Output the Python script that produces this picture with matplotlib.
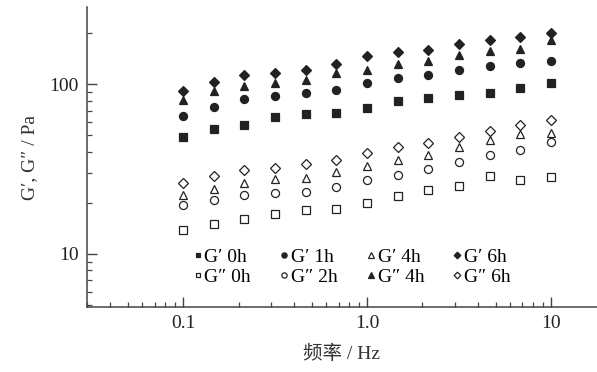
import numpy as np
import matplotlib
matplotlib.use("Agg")
import matplotlib.pyplot as plt
from matplotlib.ticker import LogLocator, FixedLocator, FixedFormatter, NullFormatter

plt.rcParams["font.family"] = ["Liberation Serif", "Noto Sans CJK SC"]

freq = [0.1, 0.147, 0.215, 0.316, 0.464, 0.681, 1.0, 1.47, 2.15, 3.16, 4.64, 6.81, 10.0]

g1_0h = [48.8, 54.2, 57.4, 63.7, 66.9, 67.8, 72.9, 79.4, 83.5, 86.2, 88.9, 95.1, 102]
g1_1h = [65.1, 73.5, 81.3, 85.0, 88.5, 92.2, 101, 109, 114, 121, 128, 133, 137]
g1_4h = [22.2, 24.3, 26.3, 27.5, 27.9, 30.5, 33.0, 35.7, 38.2, 42.5, 46.9, 50.8, 51.7]
g1_6h = [91.3, 103, 113, 117, 122, 132, 146, 154, 160, 172, 183, 190, 200]
g2_0h = [13.9, 15.0, 16.0, 17.2, 18.2, 18.3, 19.9, 22.0, 23.8, 25.1, 28.9, 27.2, 28.5]
g2_2h = [19.4, 20.8, 22.2, 23.0, 23.2, 24.7, 27.2, 29.2, 31.5, 34.6, 38.2, 40.9, 45.8]
g2_4h = [80.5, 91.3, 97.7, 102, 106, 116, 122, 131, 137, 148, 156, 162, 183]
g2_6h = [26.1, 28.9, 31.2, 32.2, 34.1, 35.7, 39.4, 42.5, 44.8, 49.0, 53.1, 57.4, 61.4]

ink = "#222222"

fig = plt.figure(figsize=(5.97, 3.72), dpi=100)
ax = fig.add_axes([0.1457, 0.1747, 0.8543, 0.8065])

# order: column-major for a 4-column legend
series = [
    (g1_0h, "s", True, "G\u2032 0h"),
    (g2_0h, "s", False, "G\u2033 0h"),
    (g1_1h, "o", True, "G\u2032 1h"),
    (g2_2h, "o", False, "G\u2033 2h"),
    (g1_4h, "^", False, "G\u2032 4h"),
    (g2_4h, "^", True, "G\u2033 4h"),
    (g1_6h, "D", True, "G\u2032 6h"),
    (g2_6h, "D", False, "G\u2033 6h"),
]
sizes = {"s": 5.2, "o": 5.8, "^": 6.0, "D": 5.2}
for vals, mk, filled, lab in series:
    ax.plot(freq, vals, linestyle="none", marker=mk, ms=sizes[mk],
            mfc=ink if filled else "white", mec=ink, mew=0.9, label=lab)

ax.set_xscale("log")
ax.set_yscale("log")
ax.set_xlim(0.03, 17.8)
ax.set_ylim(4.87, 285)

ax.xaxis.set_major_locator(FixedLocator([0.1, 1.0, 10]))
ax.xaxis.set_major_formatter(FixedFormatter(["0.1", "1.0", "10"]))
ax.yaxis.set_major_locator(FixedLocator([10, 100]))
ax.yaxis.set_major_formatter(FixedFormatter(["10", "100"]))
ax.xaxis.set_minor_locator(LogLocator(base=10, subs=np.arange(2, 10)))
ax.yaxis.set_minor_locator(LogLocator(base=10, subs=np.arange(2, 10)))
ax.xaxis.set_minor_formatter(NullFormatter())
ax.yaxis.set_minor_formatter(NullFormatter())

for side in ["top", "right"]:
    ax.spines[side].set_visible(False)
for side in ["left", "bottom"]:
    ax.spines[side].set_color("#444444")
    ax.spines[side].set_linewidth(1.1)

ax.tick_params(which="major", direction="in", length=7, width=1, colors="#444444",
               labelcolor=ink, labelsize=14, pad=6)
ax.tick_params(which="minor", direction="in", length=3.5, width=0.9, colors="#444444")

ax.set_xlabel("频率 / Hz", fontsize=14, color="#333333", labelpad=9)
ax.set_ylabel("G\u2032, G\u2033 / Pa", fontsize=14, color="#333333", labelpad=8)

ax.legend(loc="center", bbox_to_anchor=(0.59, 0.282), bbox_transform=fig.transFigure,
          ncol=4, frameon=False, fontsize=14, markerscale=0.65, handlelength=0.4,
          handletextpad=0.15, columnspacing=1.5, labelspacing=0.15, borderpad=0)

fig.savefig("out.png", dpi=100)
